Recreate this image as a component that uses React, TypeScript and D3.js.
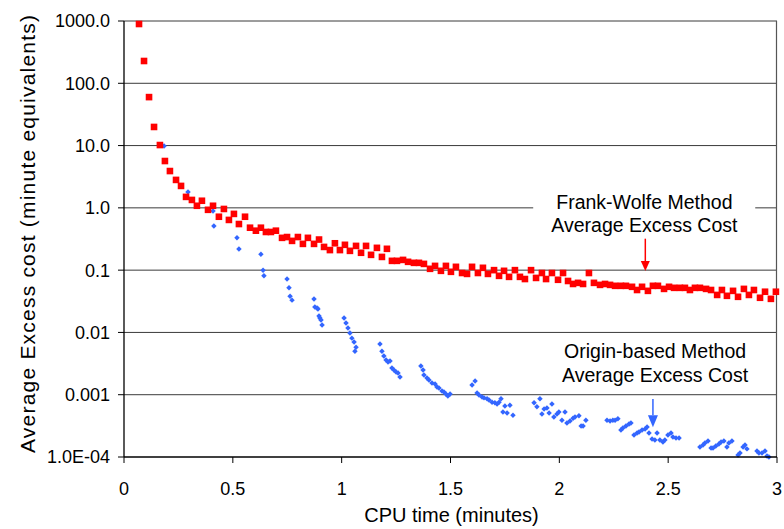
import React from "react";
import * as d3 from "d3";

// ---- Data ----
const fwTime = [
  0.069, 0.092, 0.115, 0.138, 0.165, 0.188, 0.211, 0.239, 0.262, 0.285, 0.312, 0.335, 0.358, 0.386, 0.409, 0.436,
  0.459, 0.482, 0.505, 0.528, 0.556, 0.579, 0.606, 0.629, 0.652, 0.675, 0.698, 0.726, 0.749, 0.772, 0.799, 0.822,
  0.845, 0.873, 0.896, 0.919, 0.946, 0.969, 0.992, 1.015, 1.038, 1.066, 1.089, 1.112, 1.135, 1.162, 1.185, 1.208,
  1.231, 1.254, 1.282, 1.305, 1.332, 1.355, 1.378, 1.406, 1.429, 1.456, 1.479, 1.502, 1.525, 1.553, 1.576, 1.599,
  1.626, 1.649, 1.672, 1.7, 1.723, 1.746, 1.769, 1.796, 1.819, 1.842, 1.87, 1.893, 1.92, 1.939, 1.966, 1.994,
  2.017, 2.04, 2.063, 2.086, 2.109, 2.136, 2.159, 2.187, 2.21, 2.233, 2.256, 2.283, 2.306, 2.334, 2.357, 2.38,
  2.407, 2.43, 2.453, 2.481, 2.504, 2.527, 2.554, 2.577, 2.6, 2.623, 2.646, 2.674, 2.697, 2.725, 2.747, 2.77,
  2.798, 2.821, 2.848, 2.871, 2.894, 2.922, 2.945, 2.972, 2.995,
];
const fwCost = [
  895, 228, 60, 19.9, 10.2, 5.65, 3.9, 2.81, 2.25, 1.5, 1.34, 1.08, 1.3, 0.93, 1.08, 0.72,
  0.96, 0.64, 0.8, 0.55, 0.72, 0.48, 0.43, 0.48, 0.41, 0.41, 0.43, 0.33, 0.34, 0.295, 0.34, 0.264,
  0.33, 0.264, 0.31, 0.236, 0.21, 0.27, 0.21, 0.255, 0.204, 0.245, 0.19, 0.245, 0.176, 0.228, 0.163, 0.22,
  0.141, 0.141, 0.146, 0.136, 0.131, 0.131, 0.126, 0.105, 0.117, 0.0975, 0.117, 0.094, 0.113, 0.09, 0.087, 0.113,
  0.09, 0.109, 0.087, 0.1, 0.081, 0.0975, 0.078, 0.1, 0.078, 0.072, 0.1, 0.075, 0.09, 0.072, 0.09, 0.07,
  0.09, 0.067, 0.06, 0.0625, 0.06, 0.09, 0.0625, 0.058, 0.06, 0.058, 0.056, 0.056, 0.056, 0.054, 0.048, 0.054,
  0.0465, 0.056, 0.056, 0.05, 0.054, 0.052, 0.052, 0.052, 0.048, 0.052, 0.052, 0.05, 0.048, 0.04, 0.048, 0.0387,
  0.0465, 0.0373, 0.05, 0.04, 0.048, 0.036, 0.045, 0.0346, 0.045,
];

const obTime = [
  0.184, 0.294, 0.409, 0.413, 0.519, 0.528, 0.629, 0.639, 0.643, 0.749, 0.758, 0.763, 0.772, 0.873, 0.877, 0.887,
  0.891, 0.896, 0.9, 0.905, 0.91, 1.011, 1.02, 1.029, 1.038, 1.047, 1.057, 1.066, 1.061, 1.176, 1.185, 1.194,
  1.204, 1.213, 1.222, 1.231, 1.24, 1.25, 1.259, 1.268, 1.364, 1.374, 1.378, 1.392, 1.401, 1.415, 1.429, 1.438,
  1.447, 1.461, 1.47, 1.479, 1.488, 1.498, 1.599, 1.613, 1.622, 1.631, 1.645, 1.654, 1.668, 1.677, 1.691, 1.704,
  1.714, 1.723, 1.732, 1.741, 1.75, 1.76, 1.773, 1.787, 1.884, 1.897, 1.911, 1.92, 1.93, 1.943, 1.953, 1.966,
  1.975, 1.989, 1.998, 2.012, 2.026, 2.035, 2.049, 2.063, 2.072, 2.09, 2.1, 2.109, 2.122, 2.219, 2.233, 2.246,
  2.256, 2.269, 2.283, 2.292, 2.306, 2.32, 2.329, 2.343, 2.357, 2.366, 2.38, 2.394, 2.403, 2.412, 2.426, 2.439,
  2.449, 2.462, 2.476, 2.485, 2.499, 2.513, 2.522, 2.536, 2.55, 2.646, 2.66, 2.669, 2.683, 2.697, 2.706, 2.719,
  2.733, 2.743, 2.756, 2.77, 2.779, 2.793, 2.821, 2.83, 2.844, 2.853, 2.862, 2.908, 2.917, 2.931, 2.945, 2.954,
  2.963,
];
const obCost = [
  9.85, 1.8, 0.89, 0.51, 0.33, 0.219, 0.18, 0.1, 0.081, 0.072, 0.052, 0.038, 0.033, 0.0345, 0.0256, 0.0247,
  0.0238, 0.0184, 0.0171, 0.0158, 0.0132, 0.0171, 0.0142, 0.0118, 0.0098, 0.0081, 0.007, 0.0058, 0.005, 0.0065, 0.005, 0.0042,
  0.0036, 0.00336, 0.00348, 0.00269, 0.0025, 0.00232, 0.00223, 0.00193, 0.00289, 0.0025, 0.00207, 0.00186, 0.00173, 0.00154, 0.00149, 0.00133,
  0.00128, 0.00115, 0.00111, 0.00103, 0.00095, 0.00103, 0.00143, 0.00166, 0.00107, 0.00099, 0.00092, 0.00089, 0.00086, 0.00082, 0.00076, 0.00074,
  0.00071, 0.00076, 0.00086, 0.00053, 0.00066, 0.00051, 0.00068, 0.00047, 0.00074, 0.00064, 0.00086, 0.00049, 0.00059, 0.00061, 0.00051, 0.00071,
  0.00044, 0.00049, 0.00053, 0.00039, 0.00053, 0.00035, 0.00038, 0.00042, 0.00044, 0.00046, 0.000315, 0.000315, 0.00039, 0.00039, 0.00038, 0.00039,
  0.00039, 0.00041, 0.000272, 0.000292, 0.000315, 0.00034, 0.00035, 0.000226, 0.000243, 0.000252, 0.000272, 0.000282, 0.000303, 0.000243, 0.000195, 0.000188,
  0.000243, 0.000188, 0.000174, 0.000188, 0.000226, 0.000243, 0.00021, 0.000202, 0.000202, 0.000145, 0.000156, 0.000168, 0.000181, 0.00014, 0.00014, 0.00015,
  0.000162, 0.000174, 0.000181, 0.000145, 0.000168, 0.000181, 0.000108, 0.000116, 0.000145, 0.000156, 0.000135, 0.000125, 0.000116, 0.000116, 0.000125, 0.000104,
  0.0001,
];

const yTickValues = [1e-4, 1e-3, 1e-2, 0.1, 1, 10, 100, 1000];
const yTickLabels = ["1.0E-04", "0.001", "0.01", "0.1", "1.0", "10.0", "100.0", "1000.0"];
const xTickValues = [0, 0.5, 1, 1.5, 2, 2.5, 3];
const xTickLabels = ["0", "0.5", "1", "1.5", "2", "2.5", "3"];

const fwLabel = ["Frank-Wolfe Method", "Average Excess Cost"];
const obLabel = ["Origin-based Method", "Average Excess Cost"];

// ---- Layout ----
const W = 784;
const H = 529;
const left = 124;
const right = 777;
const top = 21;
const bottom = 457;
const FONT = "'Liberation Sans', Arial, Helvetica, sans-serif";
const RED = "#ff0000";
const BLUE = "#3366ff";

export default function App() {
  const x = d3.scaleLinear().domain([0, 3]).range([left, right]);
  const y = d3.scaleLog().domain([1e-4, 1000]).range([bottom, top]);
  const diamond = d3.symbol(d3.symbolSquare, 15)() as string;

  const fw = fwTime.map((t, i) => ({ t, v: fwCost[i] }));
  const ob = obTime.map((t, i) => ({ t, v: obCost[i] }));

  const fwX = x(2.4);
  const obX = x(2.44);

  return (
    <svg
      width={W}
      height={H}
      style={{ position: "absolute", left: 0, top: 0, background: "#fff" }}
      fontFamily={FONT}
    >
      <rect x={0} y={0} width={W} height={H} fill="#fff" />
      {/* gridlines */}
      {yTickValues.slice(1).map((v) => (
        <line key={v} x1={left} x2={right} y1={y(v)} y2={y(v)} stroke="#3a3a3a" strokeWidth={1} />
      ))}
      {/* right border */}
      <line x1={right - 0.5} x2={right - 0.5} y1={top} y2={bottom} stroke="#555" strokeWidth={1.2} />

      {/* Frank-Wolfe label with white box */}
      <rect x={x(1.88)} y={y(1.45)} width={x(2.9) - x(1.88)} height={y(0.48) - y(1.45)} fill="#fff" />
      <text x={fwX - 2} y={y(1.0) + 1} fontSize={19.5} textAnchor="middle" fill="#000">
        {fwLabel[0]}
      </text>
      <text x={fwX - 2} y={y(1.0) + 24} fontSize={19.5} textAnchor="middle" fill="#000">
        {fwLabel[1]}
      </text>
      <line x1={x(2.395)} x2={x(2.395)} y1={y(0.32)} y2={y(0.14)} stroke={RED} strokeWidth={1.5} />
      <path
        d={`M${x(2.395) - 4.5},${y(0.14)} L${x(2.395) + 4.5},${y(0.14)} L${x(2.395)},${y(0.14) + 10} Z`}
        fill={RED}
      />

      {/* Origin-based label */}
      <text x={obX} y={y(0.001) - 37} fontSize={19.5} textAnchor="middle" fill="#000">
        {obLabel[0]}
      </text>
      <text x={obX} y={y(0.001) - 13} fontSize={19.5} textAnchor="middle" fill="#000">
        {obLabel[1]}
      </text>
      <line x1={x(2.43)} x2={x(2.43)} y1={y(0.00085)} y2={y(0.00047)} stroke={BLUE} strokeWidth={1.5} />
      <path
        d={`M${x(2.43) - 5},${y(0.00047)} L${x(2.43) + 5},${y(0.00047)} L${x(2.43)},${y(0.00047) + 12} Z`}
        fill={BLUE}
      />

      {/* series */}
      {ob.map((d, i) => (
        <path
          key={"b" + i}
          d={diamond}
          transform={`translate(${x(d.t)},${y(d.v)}) rotate(45)`}
          fill={BLUE}
        />
      ))}
      {fw.map((d, i) => (
        <rect key={"r" + i} x={x(d.t) - 3.3} y={y(d.v) - 3.3} width={6.6} height={6.6} fill={RED} />
      ))}

      {/* axes */}
      <line x1={left} x2={left} y1={top} y2={bottom} stroke="#000" strokeWidth={1.3} />
      <line x1={left} x2={right} y1={bottom} y2={bottom} stroke="#000" strokeWidth={1.3} />
      {yTickValues.map((v, i) => (
        <g key={"yt" + v}>
          <line x1={left - 6} x2={left} y1={y(v)} y2={y(v)} stroke="#000" strokeWidth={1} />
          <text x={left - 14} y={y(v)} dy="0.36em" fontSize={18} textAnchor="end" fill="#000">
            {yTickLabels[i]}
          </text>
        </g>
      ))}
      {xTickValues.map((v, i) => (
        <g key={"xt" + v}>
          <line x1={x(v)} x2={x(v)} y1={bottom} y2={bottom + 6} stroke="#000" strokeWidth={1} />
          <text x={x(v)} y={bottom + 38} fontSize={18} textAnchor="middle" fill="#000">
            {xTickLabels[i]}
          </text>
        </g>
      ))}
      <text x={(left + right) / 2 + 1} y={H - 7} fontSize={20} textAnchor="middle" fill="#000">
        CPU time (minutes)
      </text>
      <text
        transform={`translate(35,${(top + bottom) / 2 - 5}) rotate(-90)`}
        fontSize={21}
        textLength={438}
        lengthAdjust="spacing"
        textAnchor="middle"
        fill="#000"
      >
        Average Excess cost (minute equivalents)
      </text>
    </svg>
  );
}
